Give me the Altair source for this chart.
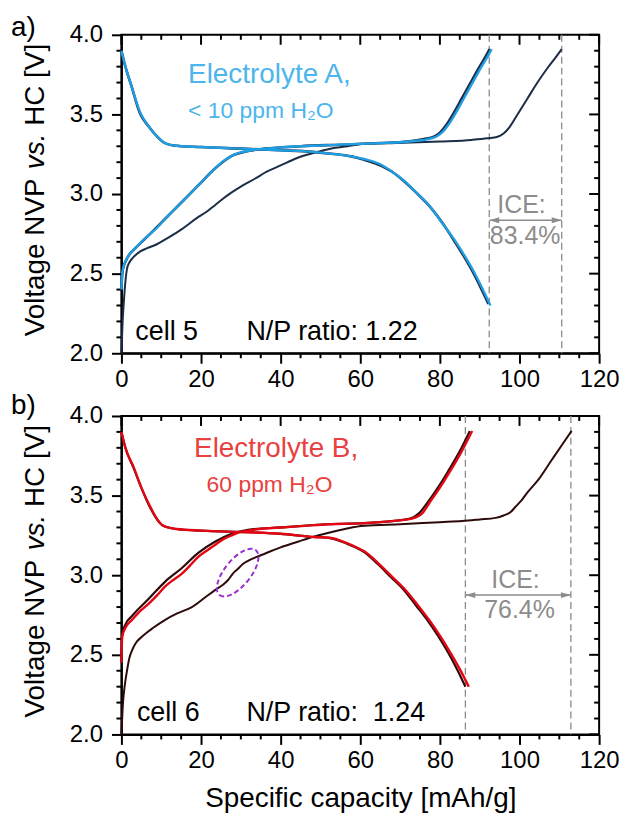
import altair as alt
import pandas as pd

FONT = "Liberation Sans"
W, H = 480, 320

BLUE_LINE = "#1f9ee3"
BLUE_TEXT = "#4cb5ec"
NAVY = "#1c2d47"
RED_LINE = "#e30613"
RED_TEXT = "#e8413f"
DARK_RED = "#2e0a0a"
GRAY = "#8c8c8c"
PURPLE = "#9b2fcf"

# ---------------- ticks ----------------
x_major = [0, 20, 40, 60, 80, 100, 120]
x_minor = [5, 10, 15, 25, 30, 35, 45, 50, 55, 65, 70, 75, 85, 90, 95, 105, 110, 115]
y_major = [2.0, 2.5, 3.0, 3.5, 4.0]
y_minor = [2.1, 2.2, 2.3, 2.4, 2.6, 2.7, 2.8, 2.9, 3.1, 3.2, 3.3, 3.4, 3.6, 3.7, 3.8, 3.9]

# ---------------- panel a: cell 5, Electrolyte A ----------------
a_ch1_cap = [0, 0.3, 0.6, 1.0, 1.4, 2.0, 2.7, 3.7, 4.75, 6.5, 8.5, 12, 15.2, 19, 21.5, 23.5, 25.5, 27.7,
             30.5, 33.5, 36.5, 40, 44, 48.5, 52.5, 56.8, 61, 69, 80, 88, 92, 94.5, 96, 97.5, 99.5, 102, 104.5, 107, 109, 110.6]
a_ch1_v = [2.0, 2.2, 2.32, 2.45, 2.53, 2.57, 2.595, 2.62, 2.64, 2.66, 2.68, 2.73, 2.78, 2.85, 2.89, 2.93, 2.97, 3.01,
           3.055, 3.096, 3.14, 3.18, 3.225, 3.26, 3.285, 3.30, 3.315, 3.32, 3.33, 3.34, 3.35, 3.36, 3.38, 3.42, 3.50,
           3.60, 3.70, 3.79, 3.855, 3.91]

a_ch2d_cap = [0, 0.15, 0.4, 1, 2, 3.5, 6.8, 11, 15.2, 19.3, 23.5, 27.7, 31.8, 36, 45, 55, 65, 72, 76, 78.5,
              80, 81.5, 83.5, 85.5, 87.5, 89.5, 91.5, 92.5]
a_ch2d_v = [2.40, 2.48, 2.53, 2.575, 2.62, 2.66, 2.74, 2.845, 2.95, 3.054, 3.16, 3.24, 3.27, 3.285, 3.30, 3.31, 3.32, 3.33,
            3.345, 3.36, 3.385, 3.43, 3.51, 3.60, 3.69, 3.78, 3.865, 3.91]

a_ch2_cap = [0, 0.15, 0.4, 1, 2, 3.5, 5, 6.8, 9, 11, 13, 15.2, 17.2, 19.3, 21.5, 23.5, 25.5, 27.7, 29.7, 31.8, 34, 36,
             40, 45, 50, 55, 60, 65, 70, 74, 77, 79, 80.5, 82, 84, 86, 88, 90, 92, 93]
a_ch2_v = [2.40, 2.48, 2.53, 2.575, 2.62, 2.66, 2.70, 2.74, 2.79, 2.845, 2.895, 2.95, 3.00, 3.054, 3.11, 3.16, 3.205, 3.24,
           3.26, 3.27, 3.28, 3.285, 3.293, 3.30, 3.305, 3.31, 3.315, 3.32, 3.325, 3.335, 3.345, 3.36, 3.385, 3.43, 3.51,
           3.60, 3.69, 3.78, 3.865, 3.91]

a_dis1_cap = [0, 1, 2.5, 4.6, 7, 9, 10.5, 13, 20, 30, 40, 48, 52, 58, 61, 64.5, 68, 71, 74, 77, 80.3, 83.5, 86, 88.5, 90.5, 92.2]
a_dis1_v = [3.90, 3.80, 3.68, 3.51, 3.42, 3.36, 3.325, 3.305, 3.295, 3.285, 3.275, 3.265, 3.255, 3.235, 3.215, 3.185,
            3.14, 3.08, 3.01, 2.935, 2.83, 2.71, 2.61, 2.50, 2.40, 2.31]

a_dis2_cap = [0, 1, 2.5, 4.75, 7, 9, 10.6, 13, 20, 30, 40, 48, 52, 58, 61, 64.75, 68, 71.4, 74, 77.25, 80.5, 84, 86.5, 89, 91, 92.7]
a_dis2_v = [3.90, 3.80, 3.68, 3.51, 3.42, 3.36, 3.325, 3.305, 3.295, 3.285, 3.275, 3.265, 3.255, 3.235, 3.22, 3.19,
            3.14, 3.075, 3.01, 2.93, 2.82, 2.70, 2.60, 2.49, 2.39, 2.30]

a_ice = [92.4, 110.6]

# ---------------- panel b: cell 6, Electrolyte B ----------------
b_ch1_cap = [0, 0.4, 0.8, 1.4, 2.0, 2.7, 3.5, 5.2, 8, 11, 14, 17.7, 21, 23.5, 25.5, 26.8, 28, 29.3, 30.5, 31.8, 34, 36,
             40, 44.3, 48, 52.7, 57, 61, 70, 80, 85.6, 90, 94, 96, 97.7, 99, 100.5, 102, 104.75, 108, 111, 113.1]
b_ch1_v = [2.0, 2.2, 2.3, 2.40, 2.48, 2.53, 2.57, 2.615, 2.67, 2.72, 2.76, 2.80, 2.86, 2.906, 2.94, 2.97, 3.01, 3.04,
           3.07, 3.09, 3.115, 3.135, 3.175, 3.21, 3.24, 3.27, 3.295, 3.31, 3.32, 3.333, 3.34, 3.35, 3.36, 3.375, 3.395,
           3.43, 3.47, 3.52, 3.60, 3.72, 3.83, 3.906]

b_ch2d_cap = [0, 0.2, 1, 2.7, 6.8, 11, 15.2, 19.3, 23.5, 27.7, 31.8, 40, 52, 61, 68, 72.5, 74.8, 77, 79.5, 82, 84.8, 87.5]
b_ch2d_v = [2.45, 2.63, 2.69, 2.745, 2.85, 2.96, 3.045, 3.14, 3.21, 3.26, 3.285, 3.30, 3.32, 3.327, 3.34, 3.355, 3.39,
            3.46, 3.55, 3.65, 3.77, 3.905]

b_ch2_cap = [0, 0.2, 1, 2.7, 4.5, 6.8, 9, 11, 13, 15.2, 17.2, 19.3, 21.5, 23.5, 25.5, 27.7, 29.7, 31.8, 36, 40.2, 46,
             52, 61, 68, 73, 74.5, 75.6, 77.5, 80, 82.5, 85.3, 88.1]
b_ch2_v = [2.45, 2.615, 2.67, 2.72, 2.77, 2.82, 2.875, 2.93, 2.97, 3.01, 3.06, 3.115, 3.155, 3.19, 3.225, 3.25, 3.27,
           3.28, 3.293, 3.30, 3.31, 3.32, 3.327, 3.34, 3.355, 3.37, 3.39, 3.46, 3.55, 3.65, 3.77, 3.906]

b_dis1_cap = [0, 1, 3.0, 5, 7.1, 9, 10.5, 13.8, 20, 31.8, 40, 48.3, 52, 56.5, 58.6, 60.7, 64.4, 67.6, 71, 74, 76.8,
              79.5, 81.7, 84.3, 86.4]
b_dis1_v = [3.90, 3.80, 3.677, 3.55, 3.43, 3.35, 3.31, 3.29, 3.28, 3.27, 3.26, 3.24, 3.235, 3.20, 3.177, 3.15, 3.07,
            2.99, 2.906, 2.81, 2.72, 2.62, 2.53, 2.41, 2.30]

b_dis2_cap = [0, 1, 3.1, 5, 7.25, 9, 10.6, 13.9, 20, 31.8, 40, 48.5, 52.25, 56.8, 58.9, 61, 64.75, 68, 71.4, 74.5,
              77.25, 80, 82.25, 85, 87.25]
b_dis2_v = [3.90, 3.80, 3.677, 3.55, 3.43, 3.35, 3.31, 3.29, 3.28, 3.27, 3.26, 3.24, 3.235, 3.20, 3.177, 3.15, 3.07,
            2.99, 2.906, 2.81, 2.72, 2.62, 2.53, 2.41, 2.30]

b_ice = [86.4, 112.9]
b_ellipse = [29.2, 3.016]

# ---------------- helpers ----------------
xs = alt.Scale(domain=[0, 120], nice=False, zero=False)
ys = alt.Scale(domain=[2.0, 4.0], nice=False, zero=False)

XAX_TOP = alt.Axis(values=x_major, tickSize=10, labelPadding=4, title=None)
XAX_BOT = alt.Axis(values=x_major, tickSize=10, labelPadding=4, title="Specific capacity [mAh/g]",
                   titlePadding=12, titleFontSize=28, titleFontWeight="normal", titleFont=FONT, titleColor="black")
YAX = alt.Axis(values=y_major, format=".1f", tickSize=10, labelPadding=9, title=None)


class Panel:
    def __init__(self, xaxis):
        self.xaxis = xaxis

    def X(self):
        return alt.X("cap:Q", scale=xs, axis=self.xaxis)

    def Y(self):
        return alt.Y("v:Q", scale=ys, axis=YAX)

    def curve(self, cap, v, color, width):
        df = pd.DataFrame({"cap": cap, "v": v})
        return alt.Chart(df).mark_line(color=color, strokeWidth=width, interpolate="monotone").encode(
            x=self.X(), y=self.Y())

    def txt(self, cap, v, s, size, color, align="left", style="normal"):
        df = pd.DataFrame({"cap": [cap], "v": [v], "t": [s]})
        return alt.Chart(df).mark_text(align=align, baseline="alphabetic", font=FONT, fontSize=size,
                                       color=color, fontStyle=style).encode(x=self.X(), y=self.Y(), text="t:N")

    def ticks(self):
        xmaj = pd.DataFrame({"cap": x_major})
        xmin = pd.DataFrame({"cap": x_minor})
        ymaj = pd.DataFrame({"v": y_major})
        ymin = pd.DataFrame({"v": y_minor})
        r = dict(color="black", strokeWidth=2)
        return [
            alt.Chart(xmin).mark_rule(**r).encode(x=self.X(), y=alt.value(H), y2=alt.value(H + 5)),
            alt.Chart(xmaj).mark_rule(**r).encode(x=self.X(), y=alt.value(0), y2=alt.value(10)),
            alt.Chart(xmin).mark_rule(**r).encode(x=self.X(), y=alt.value(0), y2=alt.value(5)),
            alt.Chart(ymin).mark_rule(**r).encode(y=self.Y(), x=alt.value(0), x2=alt.value(-5)),
            alt.Chart(ymaj).mark_rule(**r).encode(y=self.Y(), x=alt.value(W), x2=alt.value(W - 10)),
            alt.Chart(ymin).mark_rule(**r).encode(y=self.Y(), x=alt.value(W), x2=alt.value(W - 5)),
        ]

    def ice(self, bounds, arrow_v, t1, t1pos, t2, t2pos):
        dash = alt.Chart(pd.DataFrame({"cap": bounds})).mark_rule(
            color=GRAY, strokeWidth=1.3, strokeDash=[7, 4]).encode(x=self.X())
        arr = alt.Chart(pd.DataFrame({"cap": [bounds[0]], "cap2": [bounds[1]], "v": [arrow_v]})).mark_rule(
            color=GRAY, strokeWidth=1.5).encode(x=self.X(), x2="cap2:Q", y=self.Y())
        hl = alt.Chart(pd.DataFrame({"cap": [bounds[0]], "v": [arrow_v]})).mark_point(
            shape="M0,0 L2,-0.6 L2,0.6 Z", filled=True, color=GRAY, size=100, opacity=1).encode(
            x=self.X(), y=self.Y())
        hr = alt.Chart(pd.DataFrame({"cap": [bounds[1]], "v": [arrow_v]})).mark_point(
            shape="M0,0 L-2,-0.6 L-2,0.6 Z", filled=True, color=GRAY, size=100, opacity=1).encode(
            x=self.X(), y=self.Y())
        return [dash, arr, hl, hr,
                self.txt(t1pos[0], t1pos[1], t1, 25, GRAY, align="center"),
                self.txt(t2pos[0], t2pos[1], t2, 25, GRAY, align="center")]


def ptxt(px, py, s, size, angle=0, style="normal"):
    df = pd.DataFrame({"t": [s]})
    return alt.Chart(df).mark_text(align="left", baseline="alphabetic", font=FONT, fontSize=size,
                                   color="black", angle=angle, fontStyle=style).encode(
        x=alt.value(px), y=alt.value(py), text="t:N")


def ytitle_layers():
    return [
        ptxt(-78, 303, "Voltage NVP", 28, angle=270),
        ptxt(-78, 135, "vs.", 28, angle=270, style="italic"),
        ptxt(-78, 91.5, "HC [V]", 28, angle=270),
    ]


# ---------------- panel a ----------------
pa = Panel(XAX_TOP)
top = alt.layer(
    *pa.ticks(),
    *pa.ice(a_ice, 2.836, "ICE:", (100.5, 2.881), "83.4%", (101.4, 2.689)),
    pa.curve(a_ch1_cap, a_ch1_v, NAVY, 2.0),
    pa.curve(a_dis1_cap, a_dis1_v, NAVY, 2.6),
    pa.curve(a_ch2d_cap, a_ch2d_v, NAVY, 2.6),
    pa.curve(a_dis2_cap, a_dis2_v, BLUE_LINE, 2.4),
    pa.curve(a_ch2_cap, a_ch2_v, BLUE_LINE, 2.4),
    pa.txt(16.75, 3.70, "Electrolyte A,", 28, BLUE_TEXT),
    pa.txt(16.75, 3.48, "< 10 ppm H₂O", 23, BLUE_TEXT),
    pa.txt(3.5, 2.086, "cell 5", 27, "black"),
    pa.txt(31.4, 2.086, "N/P ratio: 1.22", 27, "black"),
    ptxt(-111, 1, "a)", 28),
    *ytitle_layers(),
).properties(width=W, height=H)

# ---------------- panel b ----------------
pb = Panel(XAX_BOT)
ell = alt.Chart(pd.DataFrame({"cap": [b_ellipse[0]], "v": [b_ellipse[1]]})).mark_point(
    shape="M-1,0 A1,0.45 0 1,0 1,0 A1,0.45 0 1,0 -1,0 Z", filled=False, color=PURPLE, strokeWidth=2,
    strokeDash=[5, 3], size=3364, angle=309, opacity=1).encode(x=pb.X(), y=pb.Y())

bottom = alt.layer(
    *pb.ticks(),
    *pb.ice(b_ice, 2.875, "ICE:", (99.0, 2.917), "76.4%", (100.0, 2.729)),
    pb.curve(b_ch1_cap, b_ch1_v, DARK_RED, 2.0),
    pb.curve(b_dis1_cap, b_dis1_v, DARK_RED, 2.2),
    pb.curve(b_ch2d_cap, b_ch2d_v, DARK_RED, 2.2),
    pb.curve(b_dis2_cap, b_dis2_v, RED_LINE, 2.4),
    pb.curve(b_ch2_cap, b_ch2_v, RED_LINE, 2.4),
    ell,
    pb.txt(18.25, 3.74, "Electrolyte B,", 28, RED_TEXT),
    pb.txt(21.4, 3.52, "60 ppm H₂O", 23, RED_TEXT),
    pb.txt(3.9, 2.083, "cell 6", 27, "black"),
    pb.txt(31.4, 2.083, "N/P ratio:\u00a0 1.24", 27, "black"),
    ptxt(-111, -2, "b)", 28),
    *ytitle_layers(),
).properties(width=W, height=H)

chart = alt.vconcat(top, bottom, spacing=63, bounds="flush").properties(
    padding={"left": 10, "top": 11, "right": 5, "bottom": 5},
    background="white",
).configure_view(stroke="black", strokeWidth=2).configure_axis(
    grid=False, domainColor="black", domainWidth=2, tickColor="black", tickWidth=2,
    labelFont=FONT, labelFontSize=24, labelColor="black", labelFlush=False
)

chart.save("out.html", embed_options={"renderer": "svg", "actions": False})
